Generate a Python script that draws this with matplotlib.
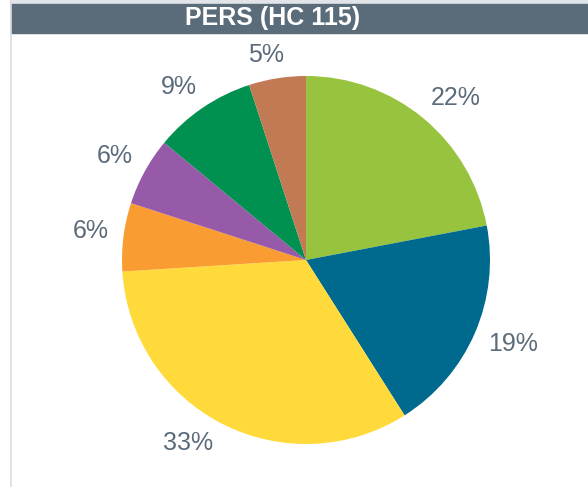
import matplotlib
matplotlib.use("Agg")
import matplotlib.pyplot as plt
from matplotlib.patches import Rectangle
from matplotlib.lines import Line2D
import numpy as np

# share per group in percent (HC 115), clockwise from 12 o'clock
shares = [22, 19, 33, 6, 6, 9, 5]
colors = ["#97C33E", "#006A8E", "#FFDA3A", "#F99D33", "#965AA9", "#009150", "#C27A55"]
title = "PERS (HC 115)"

# small angular nudges (deg) for the outside labels, like Excel's best fit
label_nudge = [-3.2, 1.3, -5.8, -0.5, 0.2, 2.0, 2.0]

plt.rcParams["font.family"] = ["Liberation Sans", "DejaVu Sans"]

W, H = 588, 487
fig = plt.figure(figsize=(W / 100, H / 100), dpi=100)

# frame decorations: top strip, left rule, title bar
fig.patches.append(Rectangle((10 / W, (H - 4) / H), 1, 4 / H, transform=fig.transFigure,
                             color="#E1E5E9", zorder=0))
fig.lines.append(Line2D([10.5 / W, 10.5 / W], [0, 1], transform=fig.transFigure,
                        color="#D9DDE1", lw=1.2))
fig.patches.append(Rectangle((11 / W, (H - 33) / H), 1, 29 / H, transform=fig.transFigure,
                             color="#5A6B7A", zorder=1))
fig.text(272.5 / W, (H - 18.5) / H, title, color="white", fontsize=18,
         fontweight="bold", ha="center", va="center")

# pie axes: centre (306, 260) px, radius 184 px
cx, cy, R = 306, 260, 184
ax = fig.add_axes([(cx - R) / W, (H - cy - R) / H, 2 * R / W, 2 * R / H])
wedges, _ = ax.pie(shares, colors=colors, startangle=90, counterclock=False,
                   wedgeprops=dict(linewidth=0))
ax.set_xlim(-1, 1)
ax.set_ylim(-1, 1)
ax.set_aspect("equal")

texts = []
for w, v in zip(wedges, shares):
    t = ax.text(0, 0, f"{v}%", fontsize=18, color="#5B6B7B",
                ha="center", va="center")
    texts.append((w, t))

fig.canvas.draw()
r = fig.canvas.get_renderer()
gap = 14
for (w, t), nd in zip(texts, label_nudge):
    ang = np.deg2rad((w.theta1 + w.theta2) / 2 + nd)
    bb = t.get_window_extent(renderer=r)
    hw, hh = bb.width / 2, bb.height / 3.2
    d = (R + gap + hw * abs(np.cos(ang)) + hh * abs(np.sin(ang))) / R
    t.set_position((d * np.cos(ang), d * np.sin(ang)))

fig.savefig("out.png", dpi=100, facecolor="white")
